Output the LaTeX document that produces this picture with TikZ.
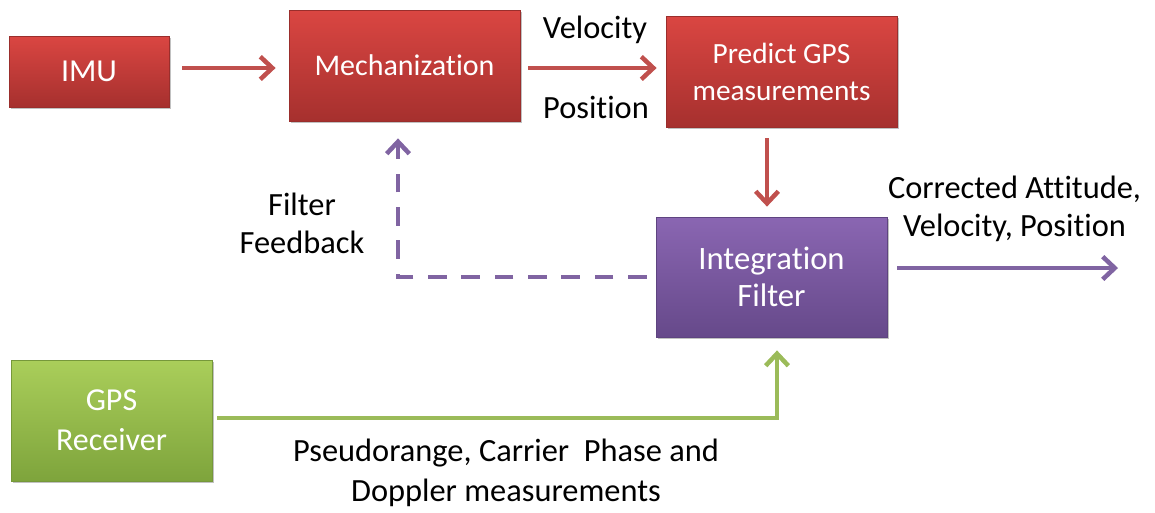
\documentclass[tikz,border=0pt]{standalone}
\usepackage{fontspec}
\setmainfont{Carlito}[Ligatures={NoCommon,NoContextual}]
\usetikzlibrary{arrows.meta,shadows,calc}
\definecolor{redtop}{HTML}{DA4642}
\definecolor{redbot}{HTML}{A6302E}
\definecolor{redbd}{HTML}{9A2E2C}
\definecolor{purtop}{HTML}{8A66B2}
\definecolor{purbot}{HTML}{66498A}
\definecolor{purbd}{HTML}{5E4480}
\definecolor{grntop}{HTML}{AACE5A}
\definecolor{grnbot}{HTML}{7EA43C}
\definecolor{grnbd}{HTML}{76983A}
\definecolor{redline}{HTML}{C0504D}
\definecolor{purline}{HTML}{8064A2}
\definecolor{grnline}{HTML}{9BBB59}
\begin{document}
\begin{tikzpicture}[x=0.75pt,y=-0.75pt,
  box/.style={rectangle, inner sep=2pt, align=center, text=white, line width=0.6pt,
    drop shadow={shadow xshift=1.5pt, shadow yshift=-1.8pt, opacity=0.35, fill=black!70}},
  redbox/.style={box, top color=redtop, bottom color=redbot, draw=redbd},
  purbox/.style={box, top color=purtop, bottom color=purbot, draw=purbd},
  grnbox/.style={box, top color=grntop, bottom color=grnbot, draw=grnbd},
  lbl/.style={align=center, inner sep=0pt, text=black, font=\fontsize{24.3pt}{29pt}\selectfont},
  conn/.style={line width=3.4pt, -{Straight Barb[length=9pt,width=17pt,line width=3.4pt]}},
  redarr/.style={conn, draw=redline},
  purarr/.style={conn, draw=purline},
  grnarr/.style={conn, draw=grnline},
  fbdash/.style={dash pattern=on 14pt off 11pt}
]
\useasboundingbox (0,0) rectangle (1155,512);

% boxes
\node[redbox, minimum width=120pt, minimum height=53.25pt, font=\fontsize{24pt}{29pt}\selectfont] (imu) at (89,71.5) {IMU};
\node[redbox, minimum width=173.25pt, minimum height=83.25pt, font=\fontsize{22.5pt}{27pt}\selectfont] (mech) at (404.5,65.5) {Mechanization};
\node[redbox, minimum width=173.25pt, minimum height=83.25pt, font=\fontsize{22pt}{27.75pt}\selectfont] (pred) at (781.5,71.5) {Predict GPS\\measurements};
\node[purbox, minimum width=173.25pt, minimum height=90pt, font=\fontsize{24.5pt}{27.75pt}\selectfont] (intf) at (771.5,277) {Integration\\Filter};
\node[grnbox, minimum width=150.75pt, minimum height=90.75pt, font=\fontsize{24pt}{30pt}\selectfont] (gps) at (111.5,420.5) {GPS\\Receiver};

% labels
\node[lbl] (vel) at (595,30) {Velocity};
\node[lbl] (pos) at (596,107) {Position};
\node[lbl] (fb) at (302,223.5) {Filter\\Feedback};
\node[lbl] (corr) at (1014.5,209) {Corrected Attitude,\\Velocity, Position};
\node[lbl, font=\fontsize{24.3pt}{30pt}\selectfont] (meas) at (506,473) {Pseudorange, Carrier~ Phase and\\Doppler measurements};

% connectors
\coordinate (out) at (1118,268);
\draw[redarr] ($(imu.east)+(13,-3.5)$) -- ($(mech.west)+(-13,2.5)$);
\draw[redarr] ($(mech.east)+(8,2.5)$) -- ($(pred.west)+(-9,-3.5)$);
\draw[redarr] ($(pred.south)+(-14.5,11)$) -- ($(intf.north)+(-4.5,-10)$);
\draw[purarr, fbdash] ($(intf.west)+(-9,0)$) -| ($(mech.south)+(-6.5,17)$);
\draw[purarr] ($(intf.east)+(10,-9)$) -- (out);
\draw[grnarr] ($(gps.east)+(5,-2.5)$) -| ($(intf.south)+(5.5,13)$);
\end{tikzpicture}
\end{document}
